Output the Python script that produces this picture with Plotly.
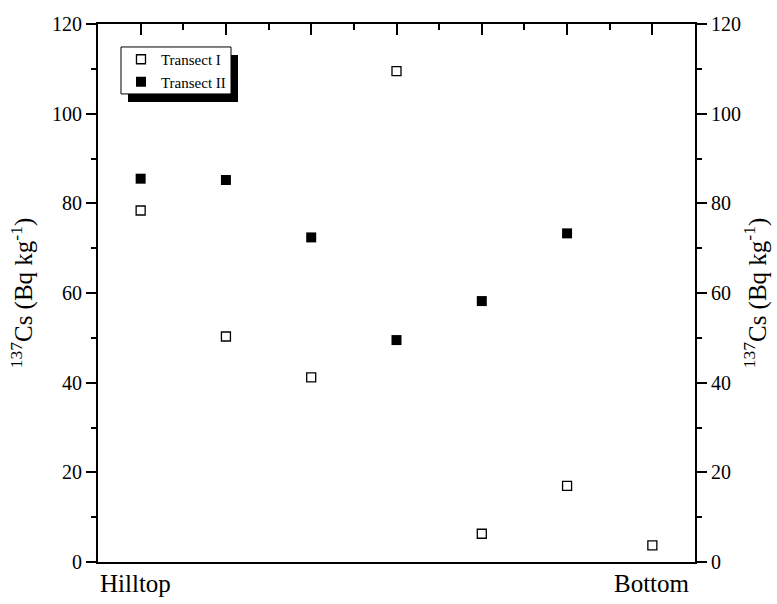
import plotly.graph_objects as go

positions = [1, 2, 3, 4, 5, 6, 7]
transect_1 = [78.4, 50.3, 41.2, 109.5, 6.3, 17.0, 3.7]
transect_2 = [85.5, 85.2, 72.4, 49.5, 58.2, 73.3]
x_end_labels = ["Hilltop", "Bottom"]
y_ticks = [0, 20, 40, 60, 80, 100, 120]
y_title = "<sup>137</sup>Cs (Bq kg<sup>-1</sup>)"

FONT = "Liberation Serif"

fig = go.Figure()
fig.add_trace(go.Scatter(
    x=positions, y=transect_1, mode="markers", name="Transect I",
    marker=dict(symbol="square-open", size=9, color="black", line=dict(width=1.3, color="black")),
))
fig.add_trace(go.Scatter(
    x=positions[:len(transect_2)], y=transect_2, mode="markers", name="Transect II",
    marker=dict(symbol="square", size=10, color="black", line=dict(width=0)),
))
# invisible traces to activate the right and top axes
fig.add_trace(go.Scatter(x=[positions[0]], y=[transect_1[0]], yaxis="y2", mode="markers",
                         marker=dict(opacity=0), showlegend=False, hoverinfo="skip"))
fig.add_trace(go.Scatter(x=[positions[0]], y=[transect_1[0]], xaxis="x2", mode="markers",
                         marker=dict(opacity=0), showlegend=False, hoverinfo="skip"))

axis_common = dict(showgrid=False, zeroline=False, linecolor="black", linewidth=2,
                   tickcolor="black", tickwidth=2, automargin=False)
tickfont = dict(family=FONT, size=20, color="black")
titlefont = dict(family=FONT, size=25, color="black")

fig.update_layout(
    width=777, height=604,
    margin=dict(l=98, r=82, t=24, b=41.5),
    paper_bgcolor="white", plot_bgcolor="white",
    font=dict(family=FONT, size=20, color="black"),
    xaxis=dict(range=[0.5, 7.5], showticklabels=False, ticks="", showline=True, **axis_common),
    xaxis2=dict(range=[0.5, 7.5], overlaying="x", side="top", showline=True, showticklabels=False,
                ticks="inside", ticklen=11, tickvals=positions,
                minor=dict(ticks="inside", ticklen=6, dtick=1, tick0=0.5, tickcolor="black", tickwidth=2),
                **axis_common),
    yaxis=dict(range=[0, 120], tickvals=y_ticks, ticks="outside", ticklen=10, showline=True,
               minor=dict(ticks="outside", ticklen=5, dtick=10, tickcolor="black", tickwidth=2),
               title=dict(text=y_title, font=titlefont, standoff=12),
               tickfont=tickfont, **axis_common),
    yaxis2=dict(range=[0, 120], tickvals=y_ticks, ticks="outside", ticklen=10, showline=True,
                overlaying="y", side="right",
                minor=dict(ticks="outside", ticklen=5, dtick=10, tickcolor="black", tickwidth=2),
                title=dict(text=y_title, font=titlefont, standoff=8),
                tickfont=tickfont, **axis_common),
    legend=dict(x=0.0385, y=0.9647, xanchor="left", yanchor="top",
                bgcolor="rgba(0,0,0,0)", borderwidth=0,
                font=dict(family=FONT, size=15, color="black"), tracegroupgap=0),
    shapes=[
        dict(type="rect", xref="paper", yref="paper",
             x0=0.05025, x1=0.2345, y0=0.8552, y1=0.9424,
             fillcolor="black", line=dict(width=0), layer="above"),
        dict(type="rect", xref="paper", yref="paper",
             x0=0.0385, x1=0.2228, y0=0.8700, y1=0.9573,
             fillcolor="white", line=dict(width=1, color="black"), layer="above"),
    ],
    annotations=[
        dict(text=x_end_labels[0], x=0, xref="paper", xanchor="left", y=0, yref="paper",
             yanchor="top", yshift=-6, showarrow=False, font=titlefont),
        dict(text=x_end_labels[1], x=positions[-1], xref="x", xanchor="center", y=0, yref="paper",
             yanchor="top", yshift=-6, showarrow=False, font=titlefont),
    ],
    showlegend=True,
)

fig.write_html("out.html", config={"displayModeBar": False},
               post_script="document.body.style.margin='0';document.body.style.overflow='hidden';")
